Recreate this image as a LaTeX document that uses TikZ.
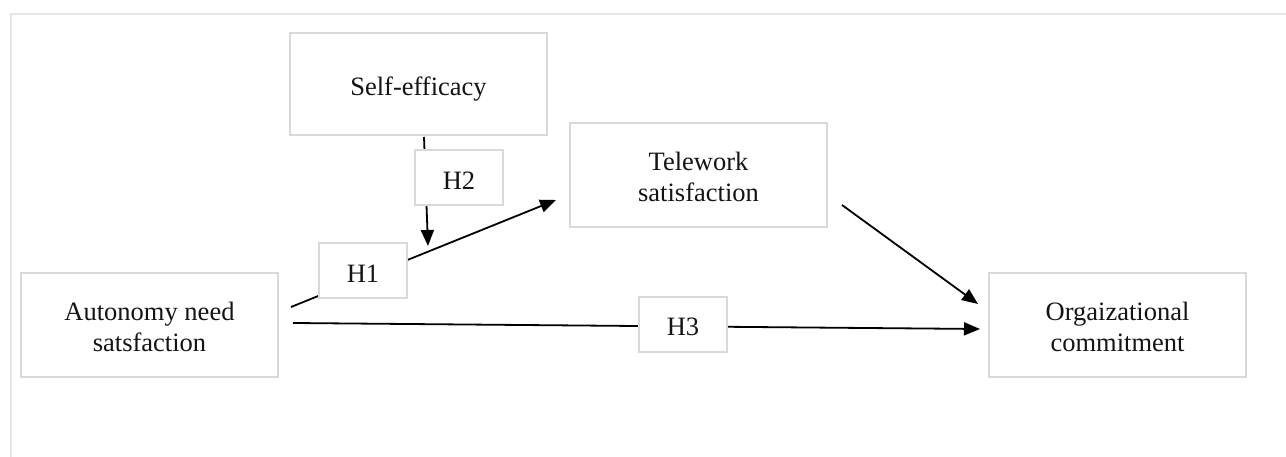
\documentclass[tikz,border=0pt]{standalone}
\usepackage{fontspec}
\setmainfont{Liberation Serif}
\usetikzlibrary{arrows.meta}
\definecolor{boxgray}{HTML}{D9D9D9}
\definecolor{framegray}{HTML}{E6E6E6}
\definecolor{txt}{HTML}{141414}
\newcommand{\boxtext}[2][-5pt]{\raisebox{#1}[\height][\depth]{\begin{tabular}{@{}c@{}}#2\end{tabular}}}
\begin{document}
\begin{tikzpicture}[x=1pt,y=-1pt,
  every node/.style={font=\fontsize{26.5}{30.5}\selectfont, text=txt},
  varbox/.style={draw=boxgray, line width=2pt, fill=white, inner sep=0pt},
  hbox/.style={draw=boxgray, line width=2pt, fill=white, inner sep=0pt, minimum width=88pt, minimum height=55pt},
  conn/.style={line width=1.8pt, -{Triangle[length=16pt,width=13pt]}}]
\useasboundingbox (0,0) rectangle (1286,457);
% outer frame (partial)
\draw[framegray, line width=2pt] (11,457) -- (11,14) -- (1286,14);
% variable boxes
\node[varbox, minimum width=257pt, minimum height=102pt] (se) at (418.5,84) {\boxtext{Self-efficacy}};
\node[varbox, minimum width=257pt, minimum height=104pt] (tw) at (698.5,175) {\boxtext{Telework\\satisfaction}};
\node[varbox, minimum width=257pt, minimum height=104pt] (an) at (149.5,325) {\boxtext{Autonomy need\\satsfaction}};
\node[varbox, minimum width=257pt, minimum height=104pt] (oc) at (1117.5,325) {\boxtext{Orgaizational\\commitment}};
% connector end points
\coordinate (h1s) at (291,307);
\coordinate (h1e) at (556,200);
\coordinate (h2s) at (424,137);
\coordinate (h2e) at (428,246);
\coordinate (h3s) at (293,323);
\coordinate (h3e) at (980,329);
\coordinate (tos) at (842,205);
\coordinate (toe) at (978,304);
% connectors
\draw[conn] (h1s) -- (h1e);
\draw[conn] (h2s) -- (h2e);
\draw[conn] (h3s) -- (h3e);
\draw[conn] (tos) -- (toe);
% hypothesis labels
\node[hbox] (h2) at (459,178) {\boxtext{H2}};
\node[hbox] (h1) at (363,271) {\boxtext{H1}};
\node[hbox] (h3) at (683,324.5) {\boxtext{H3}};
\end{tikzpicture}
\end{document}
